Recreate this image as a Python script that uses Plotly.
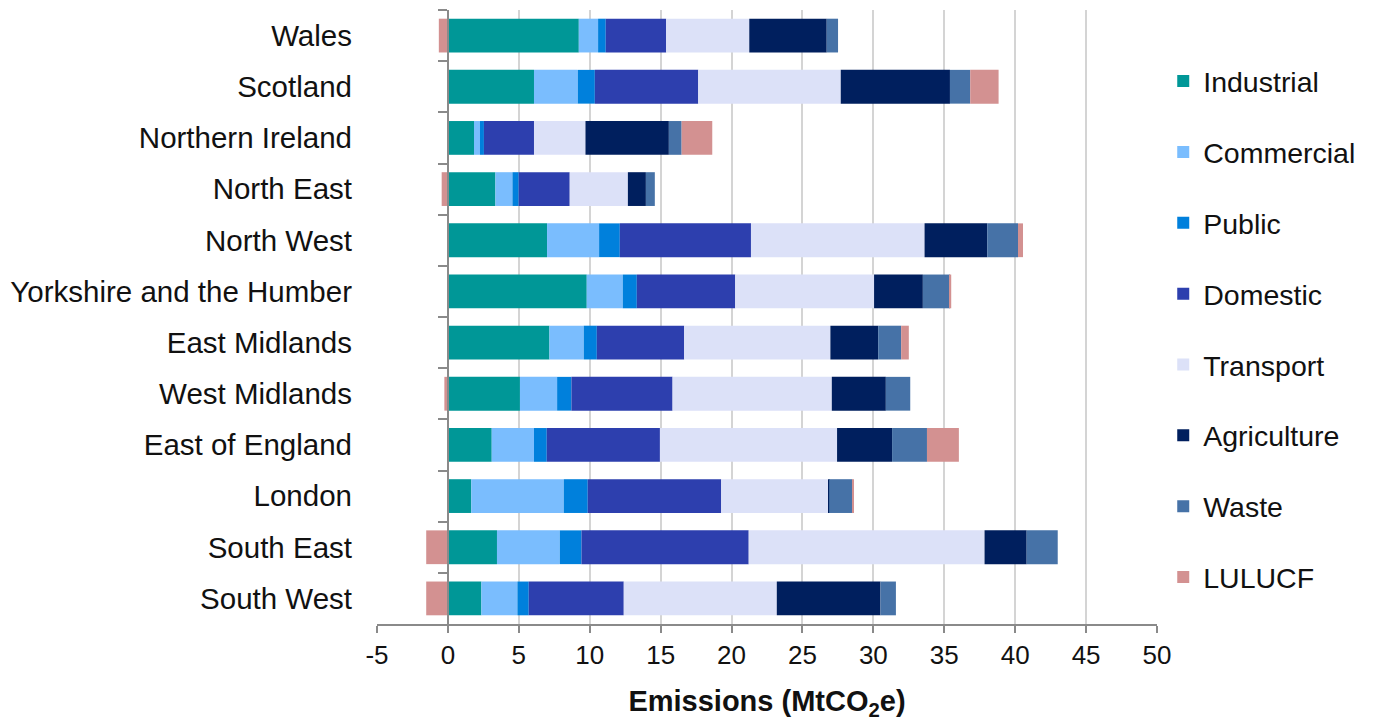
import plotly.graph_objects as go

# Regions, top to bottom
regions = [
    "Wales", "Scotland", "Northern Ireland", "North East", "North West",
    "Yorkshire and the Humber", "East Midlands", "West Midlands",
    "East of England", "London", "South East", "South West",
]

# Emissions by sector (MtCO2e), in the same order as regions
industrial  = [9.23, 6.07, 1.84, 3.35, 6.99, 9.79, 7.16, 5.08, 3.09, 1.65, 3.46, 2.36]
commercial  = [1.36, 3.09, 0.42, 1.20, 3.67, 2.54, 2.42, 2.62, 2.98, 6.52, 4.43, 2.54]
public      = [0.54, 1.20, 0.28, 0.44, 1.46, 0.99, 0.92, 1.01, 0.90, 1.69, 1.53, 0.80]
domestic    = [4.26, 7.29, 3.53, 3.60, 9.25, 6.94, 6.16, 7.13, 7.98, 9.41, 11.79, 6.70]
transport   = [5.86, 10.05, 3.63, 4.10, 12.24, 9.79, 10.31, 11.23, 12.49, 7.54, 16.63, 10.79]
agriculture = [5.46, 7.70, 5.88, 1.27, 4.42, 3.44, 3.37, 3.81, 3.88, 0.07, 2.97, 7.31]
waste       = [0.80, 1.43, 0.90, 0.63, 2.17, 1.91, 1.62, 1.72, 2.46, 1.64, 2.19, 1.09]
lulucf      = [-0.64, 2.00, 2.16, -0.44, 0.35, 0.09, 0.54, -0.25, 2.25, 0.07, -1.53, -1.53]

sectors = [
    ("Industrial", industrial, "#009797"),
    ("Commercial", commercial, "#7abdfe"),
    ("Public", public, "#0080dc"),
    ("Domestic", domestic, "#2d3fae"),
    ("Transport", transport, "#dce1f8"),
    ("Agriculture", agriculture, "#001f5e"),
    ("Waste", waste, "#4672a7"),
    ("LULUCF", lulucf, "#d39191"),
]

x_ticks = list(range(-5, 51, 5))

FONT = "Liberation Sans, Arial, sans-serif"
AXIS_GREY = "#8a8a8a"

fig = go.Figure()
for name, values, colour in sectors:
    fig.add_trace(go.Bar(
        name=name,
        y=regions,
        x=values,
        orientation="h",
        marker=dict(color=colour, line=dict(width=0)),
        legendgroup=name,
    ))

fig.update_layout(
    width=1376,
    height=722,
    barmode="relative",
    bargap=0.34,
    plot_bgcolor="white",
    paper_bgcolor="white",
    margin=dict(l=377, r=219, t=10, b=95),
    font=dict(family=FONT, size=26, color="#111111"),
    showlegend=True,
    legend=dict(
        x=1.008, xanchor="left",
        y=0.925, yanchor="top",
        traceorder="grouped",
        tracegroupgap=30.8,
        font=dict(family=FONT, size=28.5, color="#111111"),
        bgcolor="rgba(0,0,0,0)",
    ),
    xaxis=dict(
        range=[-5, 50],
        tickvals=x_ticks,
        ticktext=[str(v) for v in x_ticks],
        showgrid=True,
        gridcolor="#d4d4d4",
        gridwidth=1.5,
        zeroline=False,
        showline=True,
        linecolor=AXIS_GREY,
        linewidth=2,
        ticks="outside",
        ticklen=7,
        tickwidth=2,
        tickcolor=AXIS_GREY,
        tickfont=dict(family=FONT, size=26, color="#111111"),
        title=dict(
            text="<b>Emissions (MtCO<sub>2</sub>e)</b>",
            font=dict(family=FONT, size=29, color="#111111"),
            standoff=21,
        ),
    ),
    yaxis=dict(
        categoryorder="array",
        categoryarray=regions,
        autorange="reversed",
        anchor="free",
        position=5 / 55,
        showline=True,
        linecolor=AXIS_GREY,
        linewidth=2,
        ticks="outside",
        tickson="boundaries",
        ticklen=9,
        tickwidth=2,
        tickcolor=AXIS_GREY,
        showgrid=False,
        ticklabelstandoff=89,
        tickfont=dict(family=FONT, size=29.5, color="#111111"),
    ),
)

fig.write_html("out.html")
